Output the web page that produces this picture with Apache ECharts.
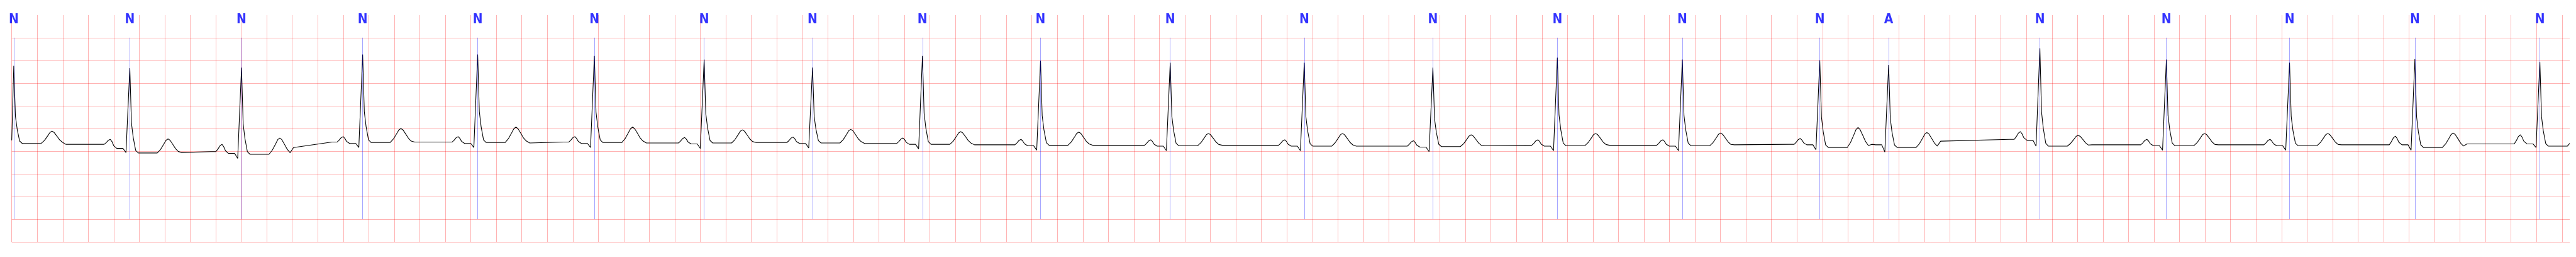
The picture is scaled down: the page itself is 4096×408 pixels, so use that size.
<!DOCTYPE html>
<html><head><meta charset="utf-8">
<script src="https://cdn.jsdelivr.net/npm/echarts@6/dist/echarts.min.js"></script>
<style>html,body{margin:0;padding:0;background:#fff}#c{width:4096px;height:408px}</style>
</head><body><div id="c"></div>
<script>
// ---- data (time in s, amplitude in mV) ----
const beatLabels = ['N','N','N','N','N','N','N','N','N','N','N','N','N','N','N','N','A','N','N','N','N','N'];
const beatTimes  = [0.016,0.926,1.802,2.752,3.654,4.569,5.430,6.280,7.142,8.068,9.085,10.136,11.145,12.121,13.101,14.179,14.719,15.905,16.897,17.863,18.846,19.826];
const isoBefore  = [null,-0.35,-0.51,-0.30,-0.30,-0.30,-0.32,-0.31,-0.33,-0.36,-0.37,-0.37,-0.39,-0.37,-0.37,-0.35,null,-0.24,-0.36,-0.36,-0.36,-0.34];
const pPeak      = [null,-0.24,-0.35,-0.18,-0.18,-0.18,-0.20,-0.19,-0.21,-0.24,-0.25,-0.25,-0.27,-0.25,-0.25,-0.22,null,-0.07,-0.24,-0.24,-0.17,-0.14];
const prLevel    = [null,-0.44,-0.55,-0.33,-0.33,-0.33,-0.34,-0.33,-0.35,-0.38,-0.39,-0.39,-0.41,-0.39,-0.39,-0.36,-0.36,-0.26,-0.38,-0.38,-0.36,-0.34];
const qDip       = [null,-0.53,-0.66,-0.42,-0.42,-0.42,-0.44,-0.43,-0.45,-0.48,-0.49,-0.49,-0.51,-0.49,-0.49,-0.47,-0.52,-0.39,-0.48,-0.48,-0.48,-0.42];
const rPeak      = [1.38,1.33,1.34,1.63,1.63,1.60,1.52,1.34,1.60,1.49,1.45,1.45,1.34,1.56,1.52,1.50,1.40,1.77,1.52,1.45,1.53,1.47];
const stLevel    = [-0.33,-0.54,-0.57,-0.31,-0.31,-0.31,-0.32,-0.32,-0.35,-0.37,-0.38,-0.39,-0.40,-0.38,-0.38,-0.42,-0.42,-0.39,-0.38,-0.38,-0.42,-0.39];
const tPeak      = [-0.06,-0.23,-0.21,0.00,0.03,0.03,-0.03,-0.02,-0.07,-0.08,-0.11,-0.11,-0.14,-0.11,-0.10,0.02,-0.09,-0.15,-0.11,-0.11,-0.10,null];
const isoAfter   = [-0.35,-0.53,-0.42,-0.30,-0.32,-0.32,-0.31,-0.33,-0.36,-0.37,-0.37,-0.39,-0.38,-0.37,-0.36,-0.35,-0.28,-0.36,-0.36,-0.36,-0.34,null];
const traceStart = [0, -0.26];
const traceEnd   = [20.06, -0.33];
// beat waveform key points read from beats 2-3: offset from R peak (s) and which level it sits at
const shapeOffsets = [-0.241,-0.201,-0.185,-0.169,-0.153,-0.140,-0.126,-0.102,-0.054,-0.030,0,0.013,0.027,0.046,0.067,0.215,0.241,0.268,0.284,0.300,0.316,0.338,0.359,0.381,0.408];
const xMin = 0, xMax = 20.06;

function mix(a, b, f) { return (a == null || b == null) ? null : a + (b - a) * f; }
function beatPoints(i) {
  const b0 = isoBefore[i], p = pPeak[i], pr = prLevel[i], r = rPeak[i], st = stLevel[i], t = tPeak[i];
  const v = [
    b0, b0, mix(b0, p, 0.35), mix(b0, p, 0.8), p, mix(pr, p, 0.75), mix(pr, p, 0.3), pr, pr, qDip[i], r,
    mix(r, st, 0.65), mix(r, st, 0.82), mix(r, st, 0.97), st,
    st, mix(st, t, 0.25), mix(st, t, 0.65), mix(st, t, 0.9), t, mix(st, t, 0.9), mix(st, t, 0.6), mix(st, t, 0.3), mix(st, t, 0.1),
    isoAfter[i]
  ];
  const out = [];
  shapeOffsets.forEach((dt, k) => {
    const x = beatTimes[i] + dt;
    if (v[k] == null || x < xMin || x > xMax) return;
    out.push([+x.toFixed(4), +v[k].toFixed(4)]);
  });
  return out;
}
let trace = [traceStart];
beatTimes.forEach((_, i) => { trace = trace.concat(beatPoints(i)); });
trace.push(traceEnd);

const S = 0.544;
const gridColor = 'rgba(255,0,0,0.30)';
const gridLine = { show: true, showMaxLine: false, lineStyle: { color: gridColor, width: 1 } };
const chart = echarts.init(document.getElementById('c'), null, { renderer: 'canvas' });
chart.setOption({
  animation: false,
  backgroundColor: '#fff',
  grid: [
    { left: 34.3 * S, right: 10, top: 110 * S, bottom: 408 - 706 * S },
    { left: 34.3 * S, right: 10, top: 44 * S, height: 66 * S }
  ],
  xAxis: [
    { type: 'value', gridIndex: 0, min: xMin, max: xMax, interval: 0.2,
      axisLine: { show: false }, axisTick: { show: false }, axisLabel: { show: false }, splitLine: gridLine },
    { type: 'value', gridIndex: 1, min: xMin, max: xMax, interval: 0.2,
      axisLine: { show: false }, axisTick: { show: false }, axisLabel: { show: false }, splitLine: gridLine }
  ],
  yAxis: [
    { type: 'value', gridIndex: 0, min: -2.5, max: 2.0, interval: 0.5,
      axisLine: { show: false }, axisTick: { show: false }, axisLabel: { show: false },
      splitLine: { show: true, lineStyle: { color: gridColor, width: 1 } } },
    { type: 'value', gridIndex: 1, min: 0, max: 1, show: false, splitLine: { show: false } }
  ],
  series: [
    {
      type: 'line', xAxisIndex: 0, yAxisIndex: 0, data: trace, showSymbol: false, symbol: 'none',
      lineStyle: { color: '#000', width: 1.1 }, z: 3,
      markLine: {
        silent: true, symbol: ['none', 'none'], label: { show: false },
        lineStyle: { color: 'rgba(0,0,255,0.5)', width: 0.7, type: 'solid' },
        data: beatTimes.map(t => [{ coord: [t, -2.0] }, { coord: [t, 2.0] }])
      }
    },
    {
      type: 'scatter', xAxisIndex: 1, yAxisIndex: 1, symbolSize: 0, z: 4,
      data: beatTimes.map((t, i) => [t, 0.795, beatLabels[i]]),
      label: {
        show: true, position: 'inside', formatter: p => p.value[2],
        color: '#0000ff', fontWeight: 'bold', fontSize: 21,
        fontFamily: "'Liberation Sans Narrow', 'DejaVu Sans Condensed', 'DejaVu Sans', sans-serif"
      }
    }
  ]
});
</script></body></html>
